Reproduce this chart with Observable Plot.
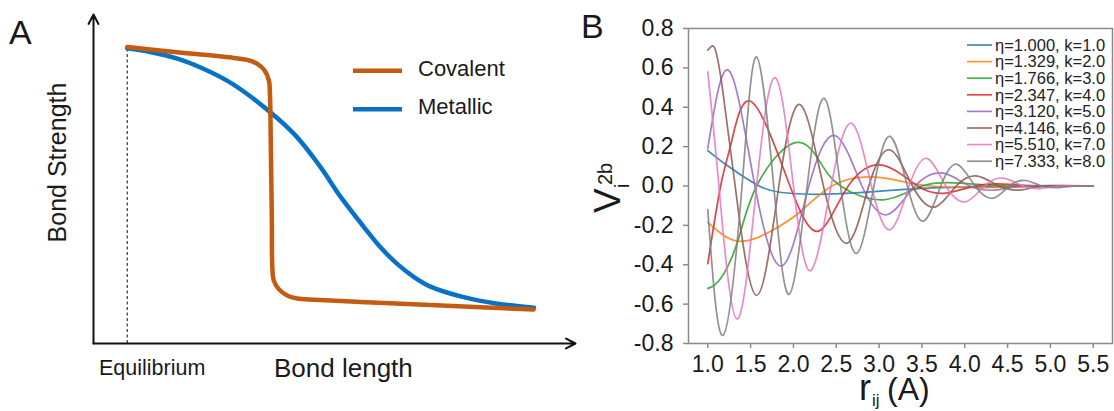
<!DOCTYPE html>
<html><head><meta charset="utf-8">
<script src="https://cdn.jsdelivr.net/npm/d3@7"></script>
<script src="https://cdn.jsdelivr.net/npm/@observablehq/plot@0.6"></script>
<style>
html,body{margin:0;padding:0;background:#fff;}
#root{position:relative;width:1114px;height:411px;overflow:hidden;background:#fff;}
#root > svg{position:absolute;top:0;}
</style></head><body><div id="root"></div>
<script>
// ---------- Panel A (schematic, arbitrary units 0-100) ----------
const bondNames = ["Covalent", "Metallic"];
const bondColors = ["#C55A11", "#0A72C6"];
const covalentX = [7.0, 17.4, 29.1, 31.9, 34.0, 35.5, 36.4, 36.6, 36.8, 37.0, 37.1, 37.4, 38.4, 40.2, 42.6, 44.7, 55.4, 69.9, 91.3];
const covalentY = [90.1, 88.5, 86.8, 86.2, 85.0, 83.0, 79.9, 76.3, 58.7, 37.4, 23.2, 19.2, 16.6, 14.6, 13.6, 13.4, 12.6, 11.7, 10.3];
const metallicX = [7.0, 11.8, 17.4, 22.2, 27.7, 33.0, 41.6, 47.1, 51.2, 56.1, 59.5, 63.0, 66.5, 69.9, 76.8, 83.8, 91.4];
const metallicY = [89.7, 88.6, 86.6, 83.9, 79.9, 74.6, 63.7, 53.6, 44.7, 35.4, 29.3, 24.2, 20.2, 17.3, 14.1, 12.1, 10.9];
const axisLabelsA = {x: "Bond length", y: "Bond Strength", eq: "Equilibrium"};

// ---------- Panel B ----------
const seriesLabels = ["η=1.000, k=1.0", "η=1.329, k=2.0", "η=1.766, k=3.0", "η=2.347, k=4.0",
                      "η=3.120, k=5.0", "η=4.146, k=6.0", "η=5.510, k=7.0", "η=7.333, k=8.0"];
const seriesColors = ["#1f77b4", "#ff7f0e", "#2ca02c", "#d62728", "#9467bd", "#8c564b", "#e377c2", "#7f7f7f"];
const curve1 = [[1.0,0.18],[1.24,0.10],[1.6,0.0],[1.86,-0.033],[2.2,-0.042],[2.55,-0.039],[2.9,-0.03],[3.5,-0.012],[4.2,-0.004],[5.5,0.0]];
const curve2 = [[1.0,-0.185],[1.35,-0.28],[1.74,-0.229],[2.09,-0.127],[2.45,0.0],[2.87,0.046],[3.25,0.025],[3.6,0.0],[4.2,-0.008],[4.8,-0.002],[5.5,0.0]];
const curve3 = [[1.0,-0.52],[1.15,-0.47],[1.35,-0.28],[1.57,0.0],[2.0,0.218],[2.3,0.13],[2.55,0.0],[3.05,-0.07],[3.5,0.0],[3.95,0.015],[4.5,0.0],[5.5,0.0]];
const curve4 = [[1.0,-0.395],[1.15,0.0],[1.28,0.23],[1.52,0.425],[1.96,0.0],[2.3,-0.228],[2.64,0.0],[3.05,0.105],[3.45,0.0],[3.78,-0.036],[4.12,0.0],[4.45,0.01],[4.9,0.0],[5.5,0.0]];
const curve5 = [[1.0,0.19],[1.25,0.585],[1.55,0.0],[1.87,-0.405],[2.18,0.0],[2.49,0.255],[2.8,0.0],[3.1,-0.145],[3.42,0.0],[3.75,0.065],[4.06,0.0],[4.38,-0.02],[4.7,0.0],[5.5,0.0]];
const curve6 = [[1.0,0.69],[1.04,0.708],[1.09,0.69],[1.17,0.5],[1.32,0.0],[1.57,-0.555],[1.83,0.0],[2.08,0.413],[2.35,0.0],[2.63,-0.29],[2.88,0.0],[3.13,0.183],[3.39,0.0],[3.65,-0.107],[3.9,0.0],[4.15,0.05],[4.4,0.0],[4.66,-0.02],[4.92,0.0],[5.5,0.0]];
const curve7 = [[1.0,0.58],[1.13,0.0],[1.34,-0.675],[1.57,0.0],[1.79,0.55],[2.0,0.0],[2.2,-0.43],[2.44,0.0],[2.68,0.318],[2.91,0.0],[3.13,-0.222],[3.35,0.0],[3.56,0.14],[3.78,0.0],[4.01,-0.08],[4.23,0.0],[4.45,0.04],[4.68,0.0],[4.9,-0.012],[5.1,0.0],[5.5,0.0]];
const curve8 = [[1.0,-0.12],[1.18,-0.758],[1.4,0.0],[1.57,0.655],[1.77,0.0],[1.95,-0.55],[2.16,0.0],[2.36,0.445],[2.55,0.0],[2.74,-0.342],[2.94,0.0],[3.13,0.252],[3.33,0.0],[3.52,-0.178],[3.72,0.0],[3.91,0.11],[4.12,0.0],[4.33,-0.062],[4.52,0.0],[4.71,0.028],[4.9,0.0],[5.1,-0.008],[5.3,0.0],[5.5,0.0]];
const xTicksB = [1.0, 1.5, 2.0, 2.5, 3.0, 3.5, 4.0, 4.5, 5.0, 5.5];
const yTicksB = [-0.8, -0.6, -0.4, -0.2, 0.0, 0.2, 0.4, 0.6, 0.8];

const FONT = '"Liberation Sans", Arial, Helvetica, sans-serif';
const TEXT = "#1a1a1a";
const root = document.getElementById("root");

// ---------- build tables ----------
const rowsCov = covalentX.map((x, i) => ({name: bondNames[0], x, y: covalentY[i]}));
const rowsMet = metallicX.map((x, i) => ({name: bondNames[1], x, y: metallicY[i]}));
const curvesB = [curve1, curve2, curve3, curve4, curve5, curve6, curve7, curve8];
const rowsB = curvesB.flatMap((c, i) => c.map(([r, v]) => ({name: seriesLabels[i], r, v})));

// ---------- Panel A plot ----------
const plotA = Plot.plot({
  width: 590, height: 411,
  marginLeft: 93, marginRight: 15, marginTop: 14, marginBottom: 68,
  style: {background: "transparent", fontFamily: FONT},
  x: {domain: [0, 100], axis: null},
  y: {domain: [0, 100], axis: null},
  color: {domain: bondNames, range: bondColors},
  marks: [
    Plot.ruleX([covalentX[0]], {y1: 0, y2: covalentY[0], stroke: "#333", strokeWidth: 1.2, strokeDasharray: "3,2.5"}),
    Plot.arrow([{x1: 0, y1: 0, x2: 100, y2: 0}, {x1: 0, y1: 0, x2: 0, y2: 100}],
      {x1: "x1", y1: "y1", x2: "x2", y2: "y2", stroke: "#111", strokeWidth: 2, headAngle: 55, headLength: 8}),
    Plot.line(rowsMet, {x: "x", y: "y", stroke: "name", strokeWidth: 4.5, curve: "catmull-rom"}),
    Plot.line(rowsCov, {x: "x", y: "y", stroke: "name", strokeWidth: 4.5, curve: "catmull-rom"})
  ]
});
plotA.style.left = "0px";
root.appendChild(plotA);

// ---------- Panel B plot ----------
const fmt = d => d.toFixed(1);
const plotB = Plot.plot({
  width: 524, height: 411,
  marginLeft: 98, marginRight: 2, marginTop: 28, marginBottom: 68,
  style: {background: "transparent", fontSize: "23px", fontFamily: FONT, color: TEXT},
  x: {domain: [0.775, 5.725], ticks: xTicksB, tickFormat: fmt, tickSize: 5, tickPadding: 7, label: null},
  y: {domain: [-0.8, 0.8], ticks: yTicksB, tickFormat: fmt, tickSize: 5, tickPadding: 10, label: null},
  color: {domain: seriesLabels, range: seriesColors},
  marks: [
    Plot.line(rowsB, {x: "r", y: "v", z: "name", stroke: "name", strokeWidth: 1.7, strokeOpacity: 0.85, curve: "natural"}),
    Plot.frame({stroke: "#8a8a8a", strokeWidth: 1.5})
  ]
});
plotB.style.left = "590px";
plotB.querySelectorAll('[aria-label="x-axis tick"], [aria-label="y-axis tick"]').forEach(g => {
  g.setAttribute("stroke", "#8a8a8a"); g.setAttribute("stroke-width", "1.5");
});
root.appendChild(plotB);

// ---------- overlay texts & legends ----------
const ov = d3.create("svg").attr("width", 1114).attr("height", 411)
  .style("left", "0px").style("font-family", FONT).attr("fill", TEXT);
ov.append("text").attr("x", 9).attr("y", 44).attr("font-size", 34).text("A");
ov.append("text").attr("x", 581).attr("y", 38).attr("font-size", 34).text("B");
ov.append("text").attr("transform", "translate(66,162.5) rotate(-90)").attr("text-anchor", "middle")
  .attr("font-size", 25).text(axisLabelsA.y);
ov.append("text").attr("x", 99).attr("y", 375).attr("font-size", 21.5).text(axisLabelsA.eq);
ov.append("text").attr("x", 274).attr("y", 377).attr("font-size", 26).text(axisLabelsA.x);
// legend A
bondNames.forEach((n, i) => {
  const y = 70.7 + i * 38.6;
  ov.append("line").attr("x1", 353).attr("x2", 402).attr("y1", y).attr("y2", y)
    .attr("stroke", bondColors[i]).attr("stroke-width", 4.5);
  ov.append("text").attr("x", 418).attr("y", y + 5).attr("font-size", 22).text(n);
});
// y label B
const yl = ov.append("text").attr("transform", "translate(620,213) rotate(-90)").attr("font-size", 37);
yl.append("tspan").text("V");
yl.append("tspan").attr("x", 25).attr("y", 9).attr("font-size", 20).text("i");
yl.append("tspan").attr("x", 28).attr("y", -8).attr("font-size", 20).text("2b");
// x label B
const xl = ov.append("text").attr("y", 400);
xl.append("tspan").attr("x", 859).attr("font-size", 36).text("r");
xl.append("tspan").attr("x", 872).attr("y", 406).attr("font-size", 17).text("ij");
xl.append("tspan").attr("x", 887).attr("y", 400).attr("font-size", 32).text("(A)");
// legend B
seriesLabels.forEach((s, i) => {
  const y = 45 + i * 16.6;
  ov.append("line").attr("x1", 967).attr("x2", 992).attr("y1", y).attr("y2", y)
    .attr("stroke", seriesColors[i]).attr("stroke-width", 1.7).attr("stroke-opacity", 0.85);
  ov.append("text").attr("x", 995).attr("y", y).attr("dy", "0.35em").attr("font-size", 16.5)
    .attr("fill", "#222").text(s);
});
root.appendChild(ov.node());
</script></body></html>
